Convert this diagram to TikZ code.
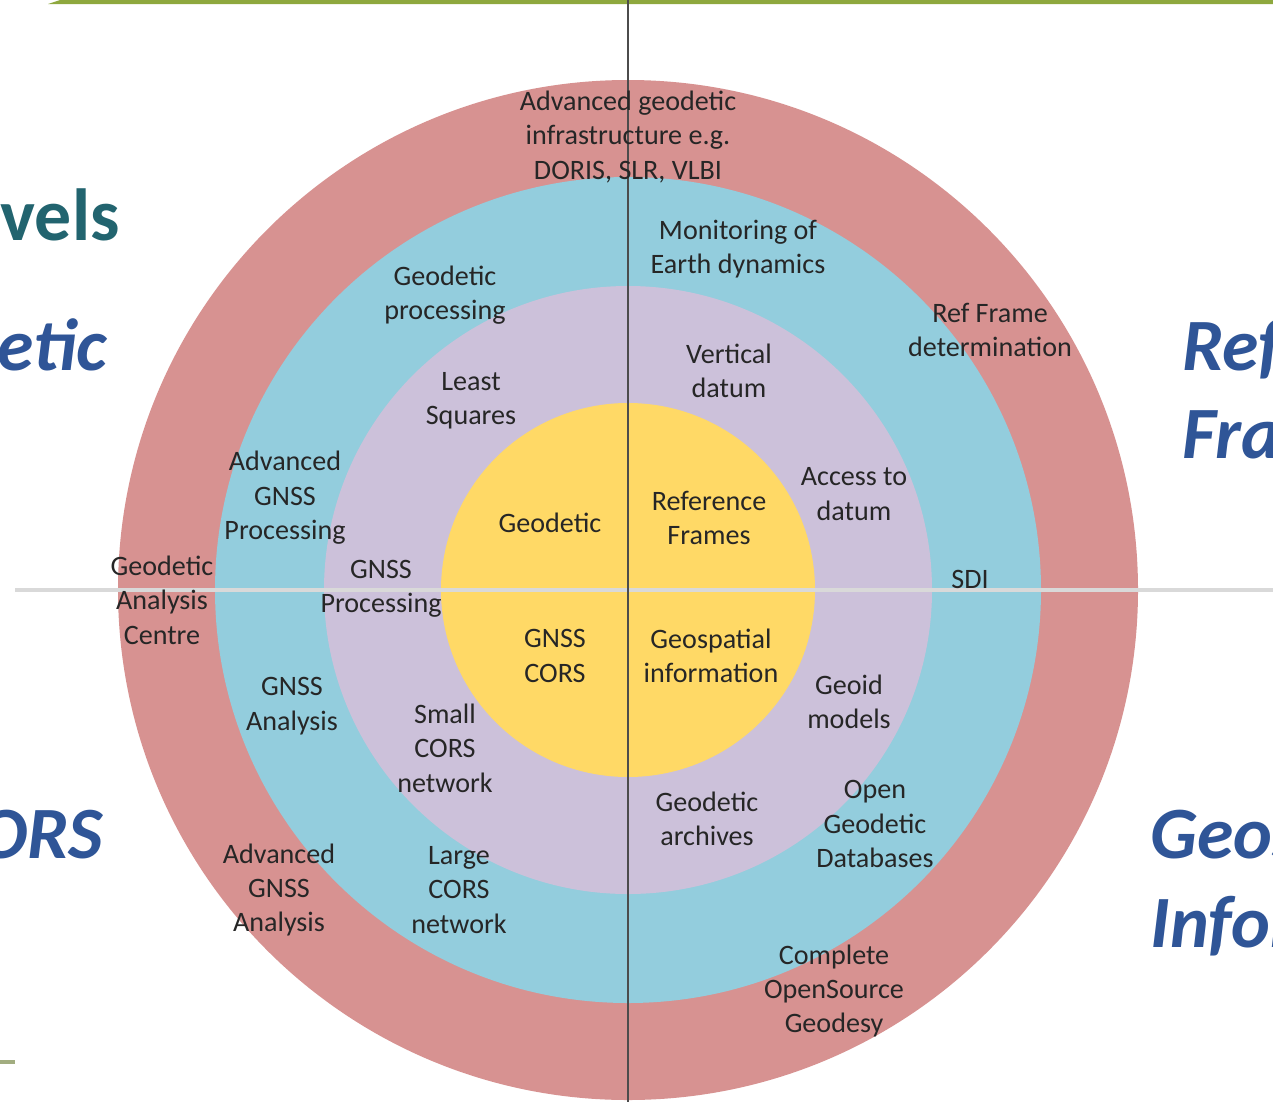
\documentclass[tikz,border=0pt]{standalone}
\usepackage{fontspec}
\setmainfont{Carlito}
\usetikzlibrary{positioning}
\definecolor{ringred}{HTML}{D79291}
\definecolor{ringblue}{HTML}{93CDDD}
\definecolor{ringpurple}{HTML}{CCC1DA}
\definecolor{ringyellow}{HTML}{FFD966}
\definecolor{bargreen}{HTML}{8EA83E}
\definecolor{sideteal}{HTML}{22646F}
\definecolor{sideblue}{HTML}{2F5597}
\tikzset{lbl/.style={align=center, inner sep=0pt, text=black!85,
    font=\fontsize{16}{19.6}\selectfont},
  side/.style={inner sep=0pt, text=sideblue,
    font=\fontsize{42}{50}\selectfont\bfseries\itshape}}

\begin{document}
\begin{tikzpicture}[x=0.02cm, y=-0.02cm]
      \useasboundingbox (0,0) rectangle (1273,1102);
      \clip (0,0) rectangle (1273,1102);

      % rings
      \fill[ringred] (628,590) circle (510);
      \fill[ringblue] (628,590) circle (413);
      \fill[ringpurple] (628,590) circle (304);
      \fill[ringyellow] (628,590) circle (187);

      % frame lines
      \fill[bargreen] (48,4) -- (60,0) -- (1273,0) -- (1273,4) -- cycle;
      \draw[black!15, line width=2] (15,590) -- (1273,590);
      \draw[black!70, line width=1.5] (628,0) -- (628,1102);
      \draw[black!30!bargreen!60, line width=2] (0,1062) -- (15,1062);

      % outer ring
      \node[lbl] (infra) at (628,137) {Advanced geodetic\\infrastructure e.g.\\DORIS, SLR, VLBI};
      \node[lbl] (refdet) at (990,330) {Ref Frame\\determination};
      \node[lbl] (centre) at (162,600) {Geodetic\\Analysis\\Centre};
      \node[lbl] (advana) at (279,890) {Advanced\\GNSS\\Analysis};
      \node[lbl] (opensrc) at (834,991) {Complete\\OpenSource\\Geodesy};

      % blue ring
      \node[lbl] (monitor) at (738,249) {Monitoring of\\Earth dynamics};
      \node[lbl] (geoproc) at (445,295) {Geodetic\\processing};
      \node[lbl] (advproc) at (285,498) {Advanced\\GNSS\\Processing};
      \node[lbl] (sdi) at (970,579) {SDI};
      \node[lbl] (gnssana) at (292,706) {GNSS\\Analysis};
      \node[lbl] (largecors) at (459,890) {Large\\CORS\\network};
      \node[lbl] (opendb) at (875,824) {Open\\Geodetic\\Databases};

      % purple ring
      \node[lbl] (vertical) at (729,371) {Vertical\\datum};
      \node[lbl] (lsq) at (471,401) {Least\\Squares};
      \node[lbl] (access) at (854,494) {Access to\\datum};
      \node[lbl] (gnssproc) at (381,589) {GNSS\\Processing};
      \node[lbl] (geoid) at (849,702) {Geoid\\models};
      \node[lbl] (smallcors) at (445,748) {Small\\CORS\\network};
      \node[lbl] (archives) at (707,819) {Geodetic\\archives};

      % core
      \node[lbl] (geodetic) at (550,523) {Geodetic};
      \node[lbl] (refframes) at (709,518) {Reference\\Frames};
      \node[lbl] (cors) at (555,656) {GNSS\\CORS};
      \node[lbl] (geoinfo) at (711,656) {Geospatial\\information};

      % side titles
      \node[side, text=sideteal, font=\fontsize{42}{50}\selectfont\bfseries, anchor=base east] (levels) at (120,240) {Levels};
      \node[side, anchor=base east] (lgeod) at (107,370) {Geodetic};
      \node[side, anchor=base east] (lcors) at (103,858) {CORS};
      \node[side, anchor=base west] (rref) at (1182,370) {Reference};
      \node[side, anchor=base west] (rframes) at (1182,458) {Frames};
      \node[side, anchor=base west] (rgeo) at (1150,858) {Geospatial};
      \node[side, anchor=base west] (rinfo) at (1150,947) {Information};
\end{tikzpicture}
\end{document}
